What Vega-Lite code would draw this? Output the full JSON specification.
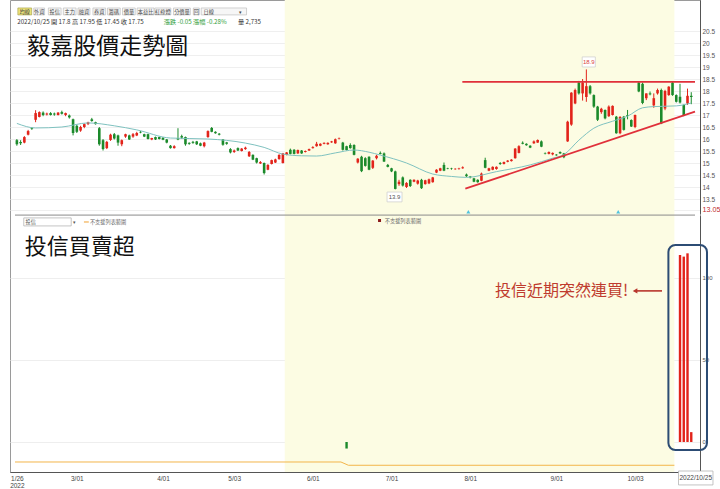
{
"$schema": "https://vega.github.io/schema/vega-lite/v6.json",
"width": 690, "height": 472,
"autosize": {"type": "none"},
"padding": {"left": 10, "top": 0, "right": 20, "bottom": 17},
"background": "white",
"config": {"view": {"stroke": "#9a9a9a", "strokeWidth": 1}, "text": {"font": "Noto Sans CJK TC"}},
"datasets": {
"k": [
{"i":0,"o":15.95,"h":16.0,"l":15.72,"c":15.78},{"i":1,"o":15.88,"h":15.95,"l":15.75,"c":15.82},{"i":2,"o":15.85,"h":16.12,"l":15.82,"c":16.08},{"i":3,"o":16.18,"h":16.38,"l":16.15,"c":16.33},{"i":4,"o":16.45,"h":16.5,"l":16.38,"c":16.42},
{"i":5,"o":16.8,"h":17.2,"l":16.7,"c":17.08},{"i":6,"o":16.92,"h":17.15,"l":16.9,"c":17.12},{"i":7,"o":17.1,"h":17.15,"l":16.95,"c":17.0},{"i":8,"o":17.02,"h":17.1,"l":16.98,"c":17.06},{"i":9,"o":17.08,"h":17.12,"l":16.98,"c":17.0},
{"i":10,"o":17.06,"h":17.1,"l":16.97,"c":17.02},{"i":11,"o":17.0,"h":17.12,"l":16.98,"c":17.1},{"i":12,"o":17.12,"h":17.18,"l":17.02,"c":17.05},{"i":13,"o":17.0,"h":17.1,"l":16.95,"c":17.08},{"i":14,"o":16.98,"h":17.02,"l":16.85,"c":16.9},
{"i":15,"o":16.82,"h":16.85,"l":16.15,"c":16.25},{"i":16,"o":16.55,"h":16.6,"l":16.25,"c":16.3},{"i":17,"o":16.35,"h":16.55,"l":16.3,"c":16.5},{"i":18,"o":16.5,"h":16.65,"l":16.45,"c":16.62},{"i":19,"o":16.62,"h":16.72,"l":16.58,"c":16.7},
{"i":20,"o":16.82,"h":16.88,"l":16.72,"c":16.75},{"i":21,"o":16.7,"h":16.72,"l":16.6,"c":16.62},{"i":22,"o":16.45,"h":16.5,"l":15.72,"c":15.78},{"i":23,"o":15.95,"h":16.0,"l":15.52,"c":15.58},{"i":24,"o":15.62,"h":15.92,"l":15.58,"c":15.88},
{"i":25,"o":15.96,"h":16.22,"l":15.92,"c":16.18},{"i":26,"o":16.2,"h":16.25,"l":15.98,"c":16.02},{"i":27,"o":16.15,"h":16.18,"l":15.72,"c":15.85},{"i":28,"o":15.78,"h":15.98,"l":15.7,"c":15.95},{"i":29,"o":16.1,"h":16.22,"l":16.05,"c":16.2},
{"i":30,"o":16.15,"h":16.18,"l":15.96,"c":15.98},{"i":31,"o":16.1,"h":16.25,"l":16.05,"c":16.2},{"i":32,"o":16.15,"h":16.3,"l":16.12,"c":16.25},{"i":33,"o":16.3,"h":16.33,"l":16.24,"c":16.27},{"i":34,"o":16.2,"h":16.22,"l":16.08,"c":16.1},
{"i":35,"o":16.2,"h":16.22,"l":15.98,"c":16.0},{"i":36,"o":15.98,"h":16.05,"l":15.95,"c":16.04},{"i":37,"o":16.08,"h":16.1,"l":15.96,"c":15.98},{"i":38,"o":16.08,"h":16.1,"l":15.98,"c":16.0},{"i":39,"o":16.05,"h":16.08,"l":15.95,"c":15.97},
{"i":40,"o":15.98,"h":16.0,"l":15.82,"c":15.85},{"i":41,"o":15.72,"h":15.75,"l":15.6,"c":15.62},{"i":42,"o":15.62,"h":15.74,"l":15.6,"c":15.7},{"i":43,"o":16.04,"h":16.45,"l":15.95,"c":15.98},{"i":44,"o":16.12,"h":16.18,"l":16.0,"c":16.06},
{"i":45,"o":16.08,"h":16.1,"l":15.72,"c":15.78},{"i":46,"o":15.84,"h":15.86,"l":15.76,"c":15.8},{"i":47,"o":15.88,"h":15.92,"l":15.8,"c":15.84},{"i":48,"o":15.9,"h":15.92,"l":15.75,"c":15.78},{"i":49,"o":15.82,"h":15.85,"l":15.7,"c":15.72},
{"i":50,"o":15.7,"h":15.88,"l":15.65,"c":15.85},{"i":51,"o":16.08,"h":16.36,"l":16.05,"c":16.33},{"i":52,"o":16.46,"h":16.5,"l":16.28,"c":16.3},{"i":53,"o":16.3,"h":16.32,"l":16.22,"c":16.24},{"i":54,"o":16.22,"h":16.25,"l":16.15,"c":16.18},
{"i":55,"o":15.98,"h":16.0,"l":15.72,"c":15.76},{"i":56,"o":15.86,"h":15.88,"l":15.76,"c":15.8},{"i":57,"o":15.58,"h":15.62,"l":15.4,"c":15.44},{"i":58,"o":15.46,"h":15.56,"l":15.42,"c":15.52},{"i":59,"o":15.62,"h":15.65,"l":15.5,"c":15.52},
{"i":60,"o":15.5,"h":15.62,"l":15.48,"c":15.6},{"i":61,"o":15.58,"h":15.68,"l":15.55,"c":15.64},{"i":62,"o":15.28,"h":15.5,"l":15.25,"c":15.46},{"i":63,"o":15.34,"h":15.36,"l":15.12,"c":15.14},{"i":64,"o":15.2,"h":15.22,"l":14.98,"c":15.02},
{"i":65,"o":14.98,"h":15.08,"l":14.96,"c":15.04},{"i":66,"o":15.0,"h":15.02,"l":14.52,"c":14.58},{"i":67,"o":14.72,"h":14.95,"l":14.7,"c":14.92},{"i":68,"o":14.96,"h":15.14,"l":14.94,"c":15.12},{"i":69,"o":15.02,"h":15.18,"l":15.0,"c":15.15},
{"i":70,"o":15.16,"h":15.36,"l":15.14,"c":15.34},{"i":71,"o":15.0,"h":15.42,"l":14.98,"c":15.4},{"i":72,"o":15.34,"h":15.46,"l":15.32,"c":15.44},{"i":73,"o":15.55,"h":15.6,"l":15.36,"c":15.38},{"i":74,"o":15.55,"h":15.58,"l":15.36,"c":15.38},
{"i":75,"o":15.4,"h":15.56,"l":15.38,"c":15.54},{"i":76,"o":15.52,"h":15.54,"l":15.38,"c":15.4},{"i":77,"o":15.46,"h":15.52,"l":15.44,"c":15.5},{"i":78,"o":15.52,"h":15.6,"l":15.5,"c":15.58},{"i":79,"o":15.62,"h":15.7,"l":15.6,"c":15.66},
{"i":80,"o":15.7,"h":15.88,"l":15.68,"c":15.8},{"i":81,"o":15.72,"h":15.82,"l":15.7,"c":15.8},{"i":82,"o":15.8,"h":15.86,"l":15.78,"c":15.84},{"i":83,"o":15.78,"h":15.86,"l":15.76,"c":15.84},{"i":84,"o":15.86,"h":15.92,"l":15.84,"c":15.9},
{"i":85,"o":15.82,"h":16.02,"l":15.8,"c":15.99},{"i":86,"o":16.02,"h":16.06,"l":15.98,"c":16.04},{"i":87,"o":15.85,"h":15.88,"l":15.52,"c":15.55},{"i":88,"o":15.7,"h":15.72,"l":15.52,"c":15.54},{"i":89,"o":15.75,"h":15.82,"l":15.6,"c":15.62},
{"i":90,"o":15.75,"h":15.78,"l":15.32,"c":15.34},{"i":91,"o":15.02,"h":15.2,"l":14.98,"c":15.18},{"i":92,"o":15.26,"h":15.3,"l":14.62,"c":14.66},{"i":93,"o":15.2,"h":15.24,"l":14.85,"c":14.88},{"i":94,"o":15.26,"h":15.28,"l":14.7,"c":14.72},
{"i":95,"o":14.8,"h":15.12,"l":14.75,"c":15.1},{"i":96,"o":15.2,"h":15.34,"l":15.15,"c":15.3},{"i":97,"o":15.42,"h":15.48,"l":15.36,"c":15.38},{"i":98,"o":15.4,"h":15.44,"l":15.04,"c":15.06},{"i":99,"o":14.92,"h":14.96,"l":14.82,"c":14.84},
{"i":100,"o":14.78,"h":14.8,"l":14.62,"c":14.65},{"i":101,"o":14.65,"h":14.68,"l":13.9,"c":13.92},{"i":102,"o":14.12,"h":14.3,"l":14.05,"c":14.22},{"i":103,"o":14.4,"h":14.44,"l":14.02,"c":14.06},{"i":104,"o":14.0,"h":14.2,"l":13.96,"c":14.17},
{"i":105,"o":14.3,"h":14.32,"l":14.0,"c":14.04},{"i":106,"o":14.22,"h":14.32,"l":14.2,"c":14.3},{"i":107,"o":14.14,"h":14.3,"l":14.1,"c":14.27},{"i":108,"o":14.3,"h":14.34,"l":13.92,"c":13.95},{"i":109,"o":14.12,"h":14.3,"l":14.1,"c":14.28},
{"i":110,"o":14.15,"h":14.35,"l":14.12,"c":14.32},{"i":111,"o":14.2,"h":14.42,"l":14.18,"c":14.4},{"i":112,"o":14.6,"h":14.74,"l":14.58,"c":14.72},{"i":113,"o":14.68,"h":14.8,"l":14.66,"c":14.78},{"i":114,"o":14.92,"h":15.02,"l":14.66,"c":14.68},
{"i":115,"o":14.78,"h":14.8,"l":14.74,"c":14.76},{"i":116,"o":14.77,"h":14.8,"l":14.72,"c":14.75},{"i":117,"o":14.74,"h":14.78,"l":14.72,"c":14.76},{"i":118,"o":14.75,"h":14.8,"l":14.72,"c":14.77},{"i":119,"o":14.78,"h":14.86,"l":14.76,"c":14.82},
{"i":120,"o":14.52,"h":14.56,"l":14.42,"c":14.45},{"i":121,"o":14.44,"h":14.46,"l":14.36,"c":14.4},{"i":122,"o":14.36,"h":14.38,"l":14.2,"c":14.22},{"i":123,"o":14.3,"h":14.32,"l":14.18,"c":14.2},{"i":124,"o":14.26,"h":14.6,"l":14.24,"c":14.56},
{"i":125,"o":15.12,"h":15.22,"l":14.78,"c":14.8},{"i":126,"o":14.68,"h":14.8,"l":14.66,"c":14.78},{"i":127,"o":14.72,"h":14.86,"l":14.7,"c":14.84},{"i":128,"o":14.75,"h":14.86,"l":14.72,"c":14.84},{"i":129,"o":15.0,"h":15.04,"l":14.92,"c":14.96},
{"i":130,"o":14.96,"h":15.06,"l":14.94,"c":15.04},{"i":131,"o":15.05,"h":15.12,"l":15.03,"c":15.1},{"i":132,"o":15.08,"h":15.16,"l":15.06,"c":15.14},{"i":133,"o":15.2,"h":15.62,"l":15.18,"c":15.6},{"i":134,"o":15.42,"h":15.74,"l":15.4,"c":15.7},
{"i":135,"o":15.84,"h":15.9,"l":15.78,"c":15.8},{"i":136,"o":15.8,"h":15.82,"l":15.72,"c":15.74},{"i":137,"o":15.72,"h":15.74,"l":15.62,"c":15.64},{"i":138,"o":15.82,"h":15.94,"l":15.8,"c":15.9},{"i":139,"o":15.85,"h":15.98,"l":15.84,"c":15.96},
{"i":140,"o":15.9,"h":15.94,"l":15.66,"c":15.68},{"i":141,"o":15.4,"h":15.44,"l":15.36,"c":15.38},{"i":142,"o":15.38,"h":15.48,"l":15.36,"c":15.46},{"i":143,"o":15.36,"h":15.44,"l":15.32,"c":15.42},{"i":144,"o":15.35,"h":15.37,"l":15.3,"c":15.32},
{"i":145,"o":15.46,"h":15.48,"l":15.38,"c":15.4},{"i":146,"o":15.4,"h":15.42,"l":15.2,"c":15.24},{"i":147,"o":15.9,"h":16.76,"l":15.88,"c":16.72},{"i":148,"o":16.6,"h":17.95,"l":16.55,"c":17.93},{"i":149,"o":17.48,"h":18.1,"l":17.45,"c":18.04},
{"i":150,"o":18.35,"h":18.42,"l":17.85,"c":17.9},{"i":151,"o":17.9,"h":18.5,"l":17.6,"c":18.35},{"i":152,"o":17.75,"h":18.9,"l":17.55,"c":18.2},{"i":153,"o":18.2,"h":18.25,"l":17.85,"c":17.9},{"i":154,"o":17.83,"h":17.86,"l":17.3,"c":17.35},
{"i":155,"o":17.35,"h":17.38,"l":16.75,"c":16.8},{"i":156,"o":17.12,"h":17.3,"l":17.05,"c":17.26},{"i":157,"o":17.21,"h":17.23,"l":16.82,"c":16.86},{"i":158,"o":16.95,"h":17.4,"l":16.92,"c":17.35},{"i":159,"o":17.0,"h":17.4,"l":16.98,"c":17.38},
{"i":160,"o":16.93,"h":16.96,"l":16.22,"c":16.24},{"i":161,"o":16.24,"h":16.95,"l":16.2,"c":16.92},{"i":162,"o":16.93,"h":16.96,"l":16.35,"c":16.38},{"i":163,"o":17.0,"h":17.21,"l":16.82,"c":16.96},{"i":164,"o":16.79,"h":16.82,"l":16.5,"c":16.52},
{"i":165,"o":16.5,"h":17.02,"l":16.45,"c":17.0},{"i":166,"o":18.35,"h":18.4,"l":17.95,"c":17.98},{"i":167,"o":18.3,"h":18.35,"l":17.45,"c":17.5},{"i":168,"o":17.7,"h":17.9,"l":17.62,"c":17.9},{"i":169,"o":17.9,"h":17.98,"l":17.82,"c":17.86},
{"i":170,"o":17.4,"h":17.9,"l":17.3,"c":17.7},{"i":171,"o":17.9,"h":18.1,"l":17.85,"c":18.04},{"i":172,"o":18.04,"h":18.1,"l":16.62,"c":16.65},{"i":173,"o":17.27,"h":18.05,"l":17.2,"c":18.0},{"i":174,"o":17.83,"h":18.2,"l":17.8,"c":18.18},
{"i":175,"o":18.35,"h":18.4,"l":17.8,"c":17.83},{"i":176,"o":17.83,"h":17.86,"l":17.52,"c":17.55},{"i":177,"o":17.76,"h":18.3,"l":17.48,"c":17.52},{"i":178,"o":17.42,"h":17.44,"l":16.95,"c":16.98},{"i":179,"o":17.48,"h":18.1,"l":17.42,"c":17.8},
{"i":180,"o":17.8,"h":17.95,"l":17.45,"c":17.75}
],
"ma": [
{"i":0,"p":16.65},{"i":5,"p":16.46},{"i":12,"p":16.5},{"i":19,"p":16.67},{"i":26,"p":16.55},{"i":32,"p":16.38},{"i":41,"p":16.04},{"i":51,"p":16.0},{"i":61,"p":15.83},{"i":66,"p":15.65},{"i":71,"p":15.37},{"i":76,"p":15.3},{"i":80,"p":15.29},{"i":85,"p":15.42},{"i":90,"p":15.54},{"i":94,"p":15.45},{"i":97,"p":15.33},{"i":104,"p":15.0},{"i":111,"p":14.54},{"i":116,"p":14.44},{"i":120,"p":14.4},{"i":128,"p":14.64},{"i":137,"p":14.92},{"i":143,"p":15.2},{"i":146,"p":15.35},{"i":150,"p":15.95},{"i":154,"p":16.45},{"i":159,"p":16.74},{"i":163,"p":16.95},{"i":167,"p":17.3},{"i":170,"p":17.35},{"i":176,"p":17.38},{"i":180,"p":17.5}
]
},
"encoding": {
"x": {"field": "i", "type": "quantitative", "scale": {"domain": [-0.5, 181], "nice": false, "zero": false},
 "axis": {"orient": "bottom", "title": null, "grid": false, "tickSize": 0, "labelPadding": 3, "labelFontSize": 6.5, "labelLineHeight": 7, "labelColor": "#444", "labelFont": "Liberation Sans", "domainColor": "#555", "labelFlush": false, "labelOverlap": false,
 "values": [0, 16, 39, 58, 79, 100, 121, 144, 165],
 "labelExpr": "datum.value==0?['1/26','2022']:datum.value==16?'3/01':datum.value==39?'4/01':datum.value==58?'5/03':datum.value==79?'6/01':datum.value==100?'7/01':datum.value==121?'8/01':datum.value==144?'9/01':'10/03'"}}
},
"layer": [
{"data": {"values": [{"i": 71.5, "i2": 175.5}]}, "mark": {"type": "rect", "color": "#fcfce3"}, "encoding": {"x2": {"field": "i2"}}},
{"data": {"name": "k"}, "mark": {"type": "rule", "strokeWidth": 1},
 "encoding": {"y": {"field": "l", "type": "quantitative", "scale": {"domain": [12.9, 21.8], "range": [213.4, -0.2], "nice": false, "zero": false},
   "axis": {"orient": "right", "title": null, "values": [13.05, 13.5, 14, 14.5, 15, 15.5, 16, 16.5, 17, 17.5, 18, 18.5, 19, 19.5, 20, 20.5], "labelExpr": "'' + datum.value", "grid": true, "gridColor": "#efefef", "tickSize": 0, "labelPadding": 2, "labelFont": "Liberation Sans", "labelFontSize": {"condition": {"test": "datum.value == 13.05", "value": 7.2}, "value": 6.5}, "labelColor": {"condition": {"test": "datum.value == 13.05", "value": "#c0282d"}, "value": "#555"}, "domainColor": "#555", "labelOverlap": false, "labelFlush": false}},
  "y2": {"field": "h"},
  "color": {"condition": {"test": "datum.c >= datum.o", "value": "#e2231a"}, "value": "#1b8a2b"}}},
{"data": {"name": "k"}, "mark": {"type": "bar", "size": 2.6},
 "encoding": {"y": {"field": "o", "type": "quantitative", "scale": {"domain": [12.9, 21.8], "range": [213.4, -0.2], "nice": false, "zero": false}, "axis": null},
  "y2": {"field": "c"},
  "color": {"condition": {"test": "datum.c >= datum.o", "value": "#e2231a"}, "value": "#1b8a2b"}}},
{"data": {"name": "ma"}, "mark": {"type": "line", "interpolate": "monotone", "color": "#7fc2c0", "strokeWidth": 1},
 "encoding": {"y": {"field": "p", "type": "quantitative", "scale": {"domain": [12.9, 21.8], "range": [213.4, -0.2], "nice": false, "zero": false}, "axis": null}}},
{"data": {"values": [{"g": "h", "i": 118.9, "p": 18.38}, {"g": "h", "i": 181, "p": 18.38}, {"g": "t", "i": 119.7, "p": 13.93}, {"g": "t", "i": 181, "p": 17.14}]},
 "mark": {"type": "line", "color": "#e0303a", "strokeWidth": 1.8},
 "encoding": {"y": {"field": "p", "type": "quantitative", "scale": {"domain": [12.9, 21.8], "range": [213.4, -0.2], "nice": false, "zero": false}, "axis": null}, "detail": {"field": "g"}}},
{"data": {"values": [{"i": 120.5, "p": 12.97}, {"i": 160.5, "p": 12.97}]}, "mark": {"type": "point", "shape": "triangle-up", "filled": true, "size": 16, "color": "#4fc3e0", "opacity": 1},
 "encoding": {"y": {"field": "p", "type": "quantitative", "scale": {"domain": [12.9, 21.8], "range": [213.4, -0.2], "nice": false, "zero": false}, "axis": null}}},
{"data": {"values": [{"i": -0.5, "i2": 181, "p": 12.83}]}, "mark": {"type": "rule", "color": "#8a8a8a", "strokeWidth": 1},
 "encoding": {"x2": {"field": "i2"}, "y": {"field": "p", "type": "quantitative", "scale": {"domain": [12.9, 21.8], "range": [213.4, -0.2], "nice": false, "zero": false}, "axis": null}}},
{"data": {"values": [{"i": 150.9, "i2": 154.4, "p": 19.42, "p2": 19.0}, {"i": 98.8, "i2": 102.8, "p": 13.79, "p2": 13.38}]},
 "mark": {"type": "rect", "fill": "white", "stroke": "#cccccc", "strokeWidth": 0.7},
 "encoding": {"x2": {"field": "i2"}, "y": {"field": "p", "type": "quantitative", "scale": {"domain": [12.9, 21.8], "range": [213.4, -0.2], "nice": false, "zero": false}, "axis": null}, "y2": {"field": "p2"}}},
{"data": {"values": [{"i": 152.65, "p": 19.21, "t": "18.9"}]}, "mark": {"type": "text", "font": "Liberation Sans", "fontSize": 6, "color": "#d9413a", "baseline": "middle"},
 "encoding": {"y": {"field": "p", "type": "quantitative", "scale": {"domain": [12.9, 21.8], "range": [213.4, -0.2], "nice": false, "zero": false}, "axis": null}, "text": {"field": "t"}}},
{"data": {"values": [{"i": 100.8, "p": 13.585, "t": "13.9"}]}, "mark": {"type": "text", "font": "Liberation Sans", "fontSize": 6, "color": "#555", "baseline": "middle"},
 "encoding": {"y": {"field": "p", "type": "quantitative", "scale": {"domain": [12.9, 21.8], "range": [213.4, -0.2], "nice": false, "zero": false}, "axis": null}, "text": {"field": "t"}}},
{"data": {"values": [{"i": 2.8, "p": 19.84, "t": "毅嘉股價走勢圖"}]}, "mark": {"type": "text", "font": "Noto Sans CJK TC", "fontSize": 23, "color": "#111", "align": "left", "baseline": "middle"},
 "encoding": {"y": {"field": "p", "type": "quantitative", "scale": {"domain": [12.9, 21.8], "range": [213.4, -0.2], "nice": false, "zero": false}, "axis": null}, "text": {"field": "t"}}},
{"data": {"values": [{"i": 0.1, "p": 20.88, "t": "2022/10/25 開 17.8 高 17.95 低 17.45 收 17.75"}, {"i": 59.0, "p": 20.88, "t": "量 2,735"}]}, "mark": {"type": "text", "fontSize": 6.2, "color": "#333", "align": "left", "baseline": "middle"},
 "encoding": {"y": {"field": "p", "type": "quantitative", "scale": {"domain": [12.9, 21.8], "range": [213.4, -0.2], "nice": false, "zero": false}, "axis": null}, "text": {"field": "t"}}},
{"data": {"values": [{"i": 39.2, "p": 20.88, "t": "漲跌 -0.05  漲幅 -0.28%"}]}, "mark": {"type": "text", "fontSize": 6.2, "color": "#2f9e3a", "align": "left", "baseline": "middle"},
 "encoding": {"y": {"field": "p", "type": "quantitative", "scale": {"domain": [12.9, 21.8], "range": [213.4, -0.2], "nice": false, "zero": false}, "axis": null}, "text": {"field": "t"}}},
{"data": {"values": [{"i": 4.5, "i2": 7.4, "p": 21.46, "p2": 21.17}, {"i": 8.4, "i2": 11.8, "p": 21.46, "p2": 21.17}, {"i": 12.4, "i2": 15.8, "p": 21.46, "p2": 21.17}, {"i": 16.3, "i2": 19.5, "p": 21.46, "p2": 21.17}, {"i": 20.3, "i2": 23.7, "p": 21.46, "p2": 21.17}, {"i": 24.2, "i2": 27.6, "p": 21.46, "p2": 21.17}, {"i": 28.2, "i2": 31.6, "p": 21.46, "p2": 21.17}, {"i": 32.1, "i2": 36.6, "p": 21.46, "p2": 21.17}, {"i": 36.8, "i2": 41.1, "p": 21.46, "p2": 21.17}, {"i": 41.8, "i2": 46.3, "p": 21.46, "p2": 21.17}, {"i": 47.1, "i2": 48.7, "p": 21.46, "p2": 21.17}, {"i": 49.2, "i2": 61.3, "p": 21.46, "p2": 21.17}]},
 "mark": {"type": "rect", "fill": "#f6f6f6", "stroke": "#b5b5b5", "strokeWidth": 0.6},
 "encoding": {"x2": {"field": "i2"}, "y": {"field": "p", "type": "quantitative", "scale": {"domain": [12.9, 21.8], "range": [213.4, -0.2], "nice": false, "zero": false}, "axis": null}, "y2": {"field": "p2"}}},
{"data": {"values": [{"i": 0.26, "i2": 3.95, "p": 21.46, "p2": 21.17}]}, "mark": {"type": "rect", "fill": "#ece37a", "stroke": "#a09a40", "strokeWidth": 0.6},
 "encoding": {"x2": {"field": "i2"}, "y": {"field": "p", "type": "quantitative", "scale": {"domain": [12.9, 21.8], "range": [213.4, -0.2], "nice": false, "zero": false}, "axis": null}, "y2": {"field": "p2"}}},
{"data": {"values": [{"i": 2.1, "p": 21.31, "t": "均線"}, {"i": 5.95, "p": 21.31, "t": "外資"}, {"i": 10.1, "p": 21.31, "t": "投信"}, {"i": 14.1, "p": 21.31, "t": "主力"}, {"i": 17.9, "p": 21.31, "t": "融資"}, {"i": 22.0, "p": 21.31, "t": "券資"}, {"i": 25.9, "p": 21.31, "t": "籌碼"}, {"i": 29.9, "p": 21.31, "t": "價量"}, {"i": 34.35, "p": 21.31, "t": "本益比"}, {"i": 38.95, "p": 21.31, "t": "紅綠燈"}, {"i": 44.05, "p": 21.31, "t": "分價量"}, {"i": 47.9, "p": 21.31, "t": "回"}, {"i": 51.2, "p": 21.31, "t": "日線"}, {"i": 59.8, "p": 21.31, "t": "▾"}]},
 "mark": {"type": "text", "fontSize": 5.2, "color": "#444", "baseline": "middle"},
 "encoding": {"y": {"field": "p", "type": "quantitative", "scale": {"domain": [12.9, 21.8], "range": [213.4, -0.2], "nice": false, "zero": false}, "axis": null}, "text": {"field": "t"}}},
{"data": {"values": [{"i": -0.5, "v": -12.2}, {"i": 86.5, "v": -12.2}, {"i": 88.5, "v": -14.2}, {"i": 175.5, "v": -14.2}]}, "mark": {"type": "line", "color": "#f3b54a", "strokeWidth": 1},
 "encoding": {"y": {"field": "v", "type": "quantitative", "scale": {"domain": [-18, 138], "range": [471.5, 215.6], "nice": false, "zero": false}, "axis": null}}},
{"data": {"values": [{"i": 88, "v": -4}, {"i": 177, "v": 114}, {"i": 178, "v": 113}, {"i": 179, "v": 115}, {"i": 180, "v": 6}]}, "mark": {"type": "bar", "size": 2.4},
 "encoding": {"y": {"field": "v", "type": "quantitative", "scale": {"domain": [-18, 138], "range": [471.5, 215.6], "nice": false, "zero": false},
   "axis": {"orient": "right", "title": null, "values": [0, 50, 100], "labelExpr": "'' + datum.value", "grid": true, "gridColor": "#eeeeee", "tickSize": 0, "labelPadding": 2, "labelFont": "Liberation Sans", "labelFontSize": 6, "labelColor": "#555", "domainColor": "#555", "labelOverlap": false, "labelFlush": false}},
  "y2": {"datum": 0},
  "color": {"condition": {"test": "datum.v >= 0", "value": "#e2231a"}, "value": "#1b8a2b"}}},
{"data": {"values": [{"i": 173.9, "i2": 184.2, "v": 120.1, "v2": -4.9}]}, "mark": {"type": "rect", "fill": null, "fillOpacity": 0, "stroke": "#2c4c74", "strokeWidth": 2, "cornerRadius": 7},
 "encoding": {"x2": {"field": "i2"}, "y": {"field": "v", "type": "quantitative", "scale": {"domain": [-18, 138], "range": [471.5, 215.6], "nice": false, "zero": false}, "axis": null}, "y2": {"field": "v2"}}},
{"data": {"values": [{"i": 165.2, "v": 92.1}, {"i": 172.2, "v": 92.1}]}, "mark": {"type": "line", "color": "#b8352c", "strokeWidth": 1.6},
 "encoding": {"y": {"field": "v", "type": "quantitative", "scale": {"domain": [-18, 138], "range": [471.5, 215.6], "nice": false, "zero": false}, "axis": null}}},
{"data": {"values": [{"i": 165.0, "v": 92.1}]}, "mark": {"type": "point", "shape": "triangle-left", "filled": true, "size": 28, "color": "#b8352c", "opacity": 1},
 "encoding": {"y": {"field": "v", "type": "quantitative", "scale": {"domain": [-18, 138], "range": [471.5, 215.6], "nice": false, "zero": false}, "axis": null}}},
{"data": {"values": [{"i": 127.6, "v": 92.1, "t": "投信近期突然連買!"}]}, "mark": {"type": "text", "fontSize": 16, "color": "#bf3b2e", "align": "left", "baseline": "middle"},
 "encoding": {"y": {"field": "v", "type": "quantitative", "scale": {"domain": [-18, 138], "range": [471.5, 215.6], "nice": false, "zero": false}, "axis": null}, "text": {"field": "t"}}},
{"data": {"values": [{"i": 2.1, "v": 118.9, "t": "投信買賣超"}]}, "mark": {"type": "text", "fontSize": 22, "color": "#111", "align": "left", "baseline": "middle"},
 "encoding": {"y": {"field": "v", "type": "quantitative", "scale": {"domain": [-18, 138], "range": [471.5, 215.6], "nice": false, "zero": false}, "axis": null}, "text": {"field": "t"}}},
{"data": {"values": [{"i": 1.84, "i2": 14.5, "v": 136.6, "v2": 131.7}, {"i": 176.6, "i2": 185.8, "v": -17.7, "v2": -26.2}]}, "mark": {"type": "rect", "fill": "white", "stroke": "#aaaaaa", "strokeWidth": 0.7},
 "encoding": {"x2": {"field": "i2"}, "y": {"field": "v", "type": "quantitative", "scale": {"domain": [-18, 138], "range": [471.5, 215.6], "nice": false, "zero": false}, "axis": null}, "y2": {"field": "v2"}}},
{"data": {"values": [{"i": 181.2, "v": -22, "t": "2022/10/25"}]}, "mark": {"type": "text", "font": "Liberation Sans", "fontSize": 6.5, "color": "#444", "baseline": "middle"},
 "encoding": {"y": {"field": "v", "type": "quantitative", "scale": {"domain": [-18, 138], "range": [471.5, 215.6], "nice": false, "zero": false}, "axis": null}, "text": {"field": "t"}}},
{"data": {"values": [{"i": 2.3, "v": 134.1, "t": "投信"}, {"i": 14.9, "v": 134.1, "t": "▾"}]}, "mark": {"type": "text", "fontSize": 5.2, "color": "#555", "align": "left", "baseline": "middle"},
 "encoding": {"y": {"field": "v", "type": "quantitative", "scale": {"domain": [-18, 138], "range": [471.5, 215.6], "nice": false, "zero": false}, "axis": null}, "text": {"field": "t"}}},
{"data": {"values": [{"i": 19.5, "v": 134.1, "t": "不支援列表範圍"}, {"i": 98.2, "v": 135, "t": "不支援列表範圍"}]}, "mark": {"type": "text", "fontSize": 5.2, "color": "#666", "align": "left", "baseline": "middle"},
 "encoding": {"y": {"field": "v", "type": "quantitative", "scale": {"domain": [-18, 138], "range": [471.5, 215.6], "nice": false, "zero": false}, "axis": null}, "text": {"field": "t"}}},
{"data": {"values": [{"i": 17.9, "v": 134.1}, {"i": 19.2, "v": 134.1}]}, "mark": {"type": "line", "color": "#f0a030", "strokeWidth": 1},
 "encoding": {"y": {"field": "v", "type": "quantitative", "scale": {"domain": [-18, 138], "range": [471.5, 215.6], "nice": false, "zero": false}, "axis": null}}},
{"data": {"values": [{"i": 96.8, "v": 135}]}, "mark": {"type": "square", "size": 9, "color": "#8b1a1a", "opacity": 1},
 "encoding": {"y": {"field": "v", "type": "quantitative", "scale": {"domain": [-18, 138], "range": [471.5, 215.6], "nice": false, "zero": false}, "axis": null}}}
],
"resolve": {"scale": {"y": "independent"}, "axis": {"y": "independent"}}
}
